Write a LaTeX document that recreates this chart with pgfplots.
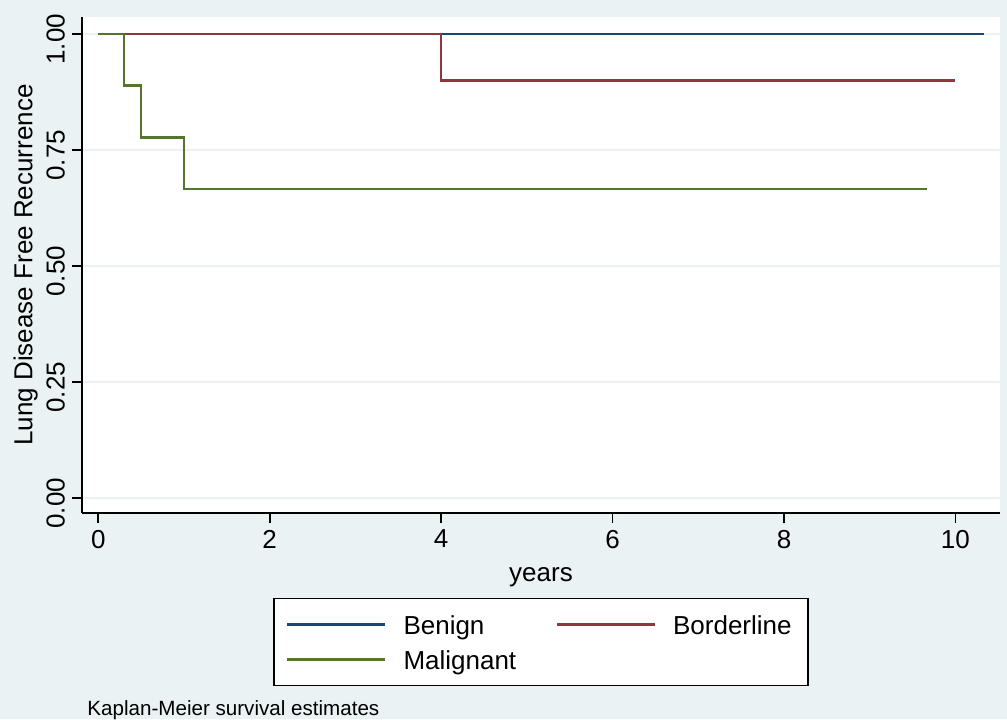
\documentclass[border=0pt]{standalone}
\usepackage{fontspec}
\setmainfont{Liberation Sans}
\usepackage{pgfplots}
\pgfplotsset{compat=1.18}
\definecolor{bgc}{RGB}{234,242,243}
\definecolor{sgrid}{RGB}{234,242,243}
\definecolor{snavy}{RGB}{26,71,111}
\definecolor{smaroon}{RGB}{144,53,59}
\definecolor{sgreen}{RGB}{85,117,47}
\begin{document}
\begin{tikzpicture}
\fill[bgc] (0,0) rectangle (503.5pt,359.5pt);
\useasboundingbox (0,0) rectangle (503.5pt,359.5pt);
\begin{axis}[
  at={(41pt,103pt)}, anchor=south west,
  scale only axis, width=459pt, height=248pt,
  xmin=-0.19, xmax=10.52, ymin=-0.032, ymax=1.037,
  axis x line*=bottom, axis y line*=left,
  axis line style={-, line width=0.9pt},
  every outer x axis line/.append style={-},
  every outer y axis line/.append style={-},
  axis background/.style={fill=white},
  xtick={0,2,4,6,8,10},
  ytick={0,0.25,0.5,0.75,1},
  scaled y ticks=false,
  yticklabel style={/pgf/number format/fixed, /pgf/number format/fixed zerofill, /pgf/number format/precision=2, rotate=90, anchor=south, xshift=-2.5pt},
  /pgf/number format/assume math mode=true,
  ticklabel style={font=\fontsize{13}{15}\selectfont},
  label style={font=\fontsize{13}{15}\selectfont},
  xlabel style={yshift=-2.5pt},
  ylabel style={yshift=-2.5pt},
  tick align=outside, major tick length=5pt,
  tick style={black, line width=0.8pt},
  ymajorgrids, grid style={sgrid, line width=0.9pt},
  xlabel={years}, ylabel={Lung Disease Free Recurrence},
  legend columns=2,
  legend image code/.code={\draw[#1] (0pt,0pt) -- (49pt,0pt);},
  legend style={at={(axis description cs:0.5,-0.171)}, anchor=north,
    draw=black, line width=0.7pt, fill=white,
    font=\fontsize{13}{15}\selectfont,
    inner xsep=6pt, inner ysep=7pt, row sep=5.5pt,
    nodes={inner sep=0pt, text height=11pt, text depth=1pt, anchor=west},
    /tikz/every odd column/.append style={column sep=8.5pt}},
  legend cell align=left,
]
\addplot[const plot, snavy, line width=1.3pt] coordinates {(0,1) (10.33,1)};
\addlegendentry{\makebox[76pt][l]{Benign}}
\addplot[const plot, smaroon, line width=1.3pt] coordinates {(0,1) (4,0.9) (10,0.9)};
\addlegendentry{\makebox[61.5pt][l]{Borderline}}
\addplot[const plot, sgreen, line width=1.3pt] coordinates {(0,1) (0.3,0.8889) (0.5,0.7778) (1,0.6667) (9.67,0.6667)};
\addlegendentry{\makebox[76pt][l]{Malignant}}
\end{axis}
\node[anchor=west, font=\fontsize{10.3}{12}\selectfont, inner sep=0pt] at (43.5pt,4.5pt) {Kaplan-Meier survival estimates};
\end{tikzpicture}
\end{document}
